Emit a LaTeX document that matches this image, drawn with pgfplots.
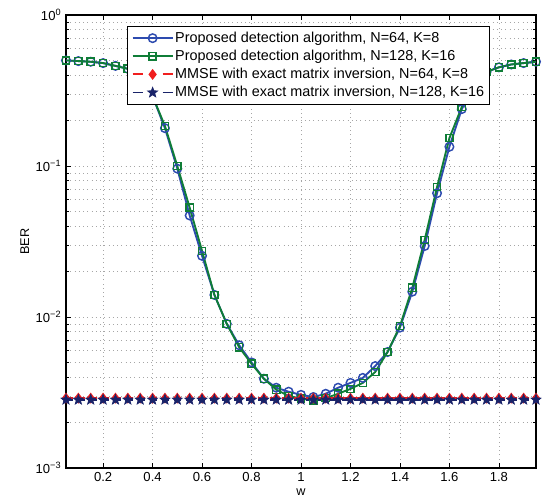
\documentclass[border=0pt]{standalone}
\usepackage{pgfplots}
\usepackage{pgfplotstable}
\pgfplotsset{compat=1.18}
\usepackage{fontspec}
\setmainfont{Liberation Sans}

\definecolor{cblue}{RGB}{45,75,175}
\definecolor{cgreen}{RGB}{15,125,55}
\definecolor{cred}{RGB}{240,30,30}
\definecolor{cnavy}{RGB}{25,35,105}

% filled five-pointed star (pentagram)
\pgfdeclareplotmark{fstar}{%
  \pgfpathmoveto{\pgfpointpolar{90}{\pgfplotmarksize}}%
  \pgfpathlineto{\pgfpointpolar{126}{0.42\pgfplotmarksize}}%
  \pgfpathlineto{\pgfpointpolar{162}{\pgfplotmarksize}}%
  \pgfpathlineto{\pgfpointpolar{198}{0.42\pgfplotmarksize}}%
  \pgfpathlineto{\pgfpointpolar{234}{\pgfplotmarksize}}%
  \pgfpathlineto{\pgfpointpolar{270}{0.42\pgfplotmarksize}}%
  \pgfpathlineto{\pgfpointpolar{306}{\pgfplotmarksize}}%
  \pgfpathlineto{\pgfpointpolar{342}{0.42\pgfplotmarksize}}%
  \pgfpathlineto{\pgfpointpolar{18}{\pgfplotmarksize}}%
  \pgfpathlineto{\pgfpointpolar{54}{0.42\pgfplotmarksize}}%
  \pgfpathclose
  \pgfusepathqfillstroke}

% w, proposed N=64, proposed N=128, MMSE N=64, MMSE N=128
\pgfplotstableread{
w    p64     p128    m64     m128
0.05 0.500   0.500   0.00290 0.00283
0.10 0.495   0.495   0.00290 0.00283
0.15 0.490   0.490   0.00290 0.00283
0.20 0.480   0.480   0.00290 0.00283
0.25 0.460   0.460   0.00290 0.00283
0.30 0.440   0.440   0.00290 0.00283
0.35 0.390   0.390   0.00290 0.00283
0.40 0.290   0.290   0.00290 0.00283
0.45 0.178   0.184   0.00290 0.00283
0.50 0.096   0.100   0.00290 0.00283
0.55 0.047   0.053   0.00290 0.00283
0.60 0.0254  0.0274  0.00290 0.00283
0.65 0.0140  0.0140  0.00290 0.00283
0.70 0.0090  0.0090  0.00290 0.00283
0.75 0.0065  0.0063  0.00290 0.00283
0.80 0.0050  0.0049  0.00290 0.00283
0.85 0.0039  0.0039  0.00290 0.00283
0.90 0.0034  0.0033  0.00290 0.00283
0.95 0.0032  0.0030  0.00290 0.00283
1.00 0.00305 0.00288 0.00290 0.00283
1.05 0.00295 0.00280 0.00290 0.00283
1.10 0.0031  0.0029  0.00290 0.00283
1.15 0.0034  0.0031  0.00290 0.00283
1.20 0.00366 0.00334 0.00290 0.00283
1.25 0.00395 0.00366 0.00290 0.00283
1.30 0.00473 0.00432 0.00290 0.00283
1.35 0.00586 0.00586 0.00290 0.00283
1.40 0.0085  0.0087  0.00290 0.00283
1.45 0.0147  0.0156  0.00290 0.00283
1.50 0.0295  0.0324  0.00290 0.00283
1.55 0.066   0.0726  0.00290 0.00283
1.60 0.134   0.153   0.00290 0.00283
1.65 0.238   0.246   0.00290 0.00283
1.70 0.340   0.350   0.00290 0.00283
1.75 0.420   0.420   0.00290 0.00283
1.80 0.450   0.450   0.00290 0.00283
1.85 0.470   0.470   0.00290 0.00283
1.90 0.480   0.480   0.00290 0.00283
1.95 0.490   0.490   0.00290 0.00283
}\bertable

\begin{document}
\begin{tikzpicture}
\begin{axis}[
    scale only axis,
    width=352.5pt,
    height=339.75pt,
    ymode=log,
    xmin=0.05, xmax=1.95,
    ymin=1e-3, ymax=1,
    xtick={0.2,0.4,...,1.8},
    ytick={1e-3,1e-2,1e-1,1},
    yticklabels={10\textsuperscript{−3},10\textsuperscript{−2},10\textsuperscript{−1},10\textsuperscript{0}},
    /pgf/number format/assume math mode=true,
    font=\fontsize{9.5pt}{11pt}\selectfont,
    ticklabel style={font=\fontsize{9.8pt}{11pt}\selectfont},
    xlabel={w},
    ylabel={BER},
    xlabel style={yshift=2pt},
    ylabel style={yshift=-2pt},
    tick align=inside,
    major tick length=4pt,
    minor tick length=2.5pt,
    grid=both,
    major grid style={gray!70, line width=0.4pt, dash pattern=on 0.6pt off 2.6pt},
    minor grid style={gray!70, line width=0.4pt, dash pattern=on 0.6pt off 2.6pt},
    axis line style={line width=1pt},
    every tick/.style={black, line width=0.5pt},
    clip=false,
    legend style={at={(rel axis cs:0.13,0.976)}, anchor=north west,
        draw=black, line width=0.9pt, fill=white,
        font=\fontsize{10.8pt}{12pt}\selectfont,
        row sep=0pt, inner xsep=3pt, inner ysep=2pt,
        nodes={inner sep=1.2pt, text height=8.6pt, text depth=2.6pt}},
    legend cell align=left,
    legend image code/.code={
        \draw[mark repeat=2, mark phase=2, #1]
            plot coordinates {(0pt,0pt) (15pt,0pt) (30pt,0pt)};
    },
]
\addplot[cblue, line width=1.4pt, mark=o, mark size=3.2pt, mark options={solid, line width=1.1pt}]
    table[x=w, y=p64] {\bertable};
\addlegendentry{Proposed detection algorithm, N=64, K=8}
\addplot[cgreen, line width=1.4pt, mark=square, mark size=2.7pt, mark options={solid, line width=1.1pt}]
    table[x=w, y=p128] {\bertable};
\addlegendentry{Proposed detection algorithm, N=128, K=16}
\addplot[cred, line width=1.4pt, dash pattern=on 5pt off 4pt, mark=diamond*, mark size=3pt, mark options={solid},
    legend image post style={dash pattern=on 7.5pt off 15pt}]
    table[x=w, y=m64] {\bertable};
\addlegendentry{MMSE with exact matrix inversion, N=64, K=8}
\addplot[cnavy, line width=1.4pt, dash pattern=on 5pt off 4pt, mark=fstar, mark size=4pt, mark options={solid, fill=cnavy, line width=0.5pt},
    legend image post style={dash pattern=on 7.5pt off 15pt}]
    table[x=w, y=m128] {\bertable};
\addlegendentry{MMSE with exact matrix inversion, N=128, K=16}
\path (rel axis cs:-0.1404,-0.075) rectangle (rel axis cs:1.0149,1.033);
\end{axis}
\end{tikzpicture}
\end{document}
